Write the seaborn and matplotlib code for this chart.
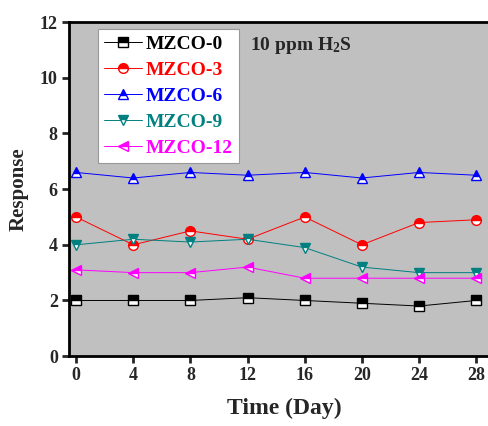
import pandas as pd
import numpy as np
import matplotlib
matplotlib.use('Agg')
import matplotlib.pyplot as plt
import seaborn as sns

# data
days = [0, 4, 8, 12, 16, 20, 24, 28]
mzco_0 = [2.0, 2.0, 2.0, 2.1, 2.0, 1.9, 1.8, 2.0]
mzco_3 = [5.0, 4.0, 4.5, 4.2, 5.0, 4.0, 4.8, 4.9]
mzco_6 = [6.6, 6.4, 6.6, 6.5, 6.6, 6.4, 6.6, 6.5]
mzco_9 = [4.0, 4.2, 4.1, 4.2, 3.9, 3.2, 3.0, 3.0]
mzco_12 = [3.1, 3.0, 3.0, 3.2, 2.8, 2.8, 2.8, 2.8]

names = ['MZCO-0', 'MZCO-3', 'MZCO-6', 'MZCO-9', 'MZCO-12']
series = [mzco_0, mzco_3, mzco_6, mzco_9, mzco_12]
colors = ['black', 'red', 'blue', '#008080', 'magenta']
markers = ['s', 'o', '^', 'v', '<']

df = pd.DataFrame({'day': days * len(names),
                   'response': np.concatenate(series),
                   'sample': np.repeat(names, len(days))})

sns.set_style('ticks')
plt.rcParams['font.family'] = ['Liberation Serif', 'DejaVu Serif']
plt.rcParams['font.weight'] = 'bold'
plt.rcParams['mathtext.fontset'] = 'custom'
plt.rcParams['mathtext.rm'] = 'Liberation Serif:bold'
plt.rcParams['mathtext.it'] = 'Liberation Serif:bold'
plt.rcParams['mathtext.bf'] = 'Liberation Serif:bold'

fig = plt.figure(figsize=(4.89, 4.26), dpi=100)
ax = fig.add_axes([0.141, 0.164, 0.8825, 0.784])
ax.set_facecolor('#c0c0c0')

for name, col, mk in zip(names, colors, markers):
    sns.lineplot(data=df[df['sample'] == name], x='day', y='response',
                 color=col, marker=mk, markersize=7, fillstyle='top',
                 markerfacecolor=col, markerfacecoloralt='white',
                 markeredgecolor=col, markeredgewidth=1.0,
                 linewidth=0.7, alpha=1, label=name, ax=ax)

ax.set_xlim(-0.5, 29.7)
ax.set_ylim(0, 12)
ax.set_xticks(days)
ax.set_yticks(range(0, 13, 2))
ax.tick_params(direction='out', length=5, width=2, labelsize=13, pad=3)
for lab in ax.get_xticklabels() + ax.get_yticklabels():
    lab.set_fontweight('bold')
for sp in ax.spines.values():
    sp.set_linewidth(2)
    sp.set_color('black')

ax.set_xlabel('Time (Day)', fontsize=17, fontweight='bold', labelpad=10)
ax.set_ylabel('Response', fontsize=15, fontweight='bold', labelpad=8)

leg = ax.legend(loc='upper left', bbox_to_anchor=(0.068, 0.978), fontsize=14,
                frameon=True, fancybox=False, framealpha=1, edgecolor='#999999',
                handlelength=1.95, labelspacing=0.43, borderpad=0.3,
                handletextpad=0.2, borderaxespad=0)
leg.get_frame().set_linewidth(0.8)
for txt, col in zip(leg.get_texts(), colors):
    txt.set_color(col)
    txt.set_fontweight('bold')

ax.text(0.42, 0.93, r'10 ppm H$_2$S', transform=ax.transAxes,
        fontsize=14, fontweight='bold', ha='left', va='center')

fig.savefig('out.png', dpi=100)
